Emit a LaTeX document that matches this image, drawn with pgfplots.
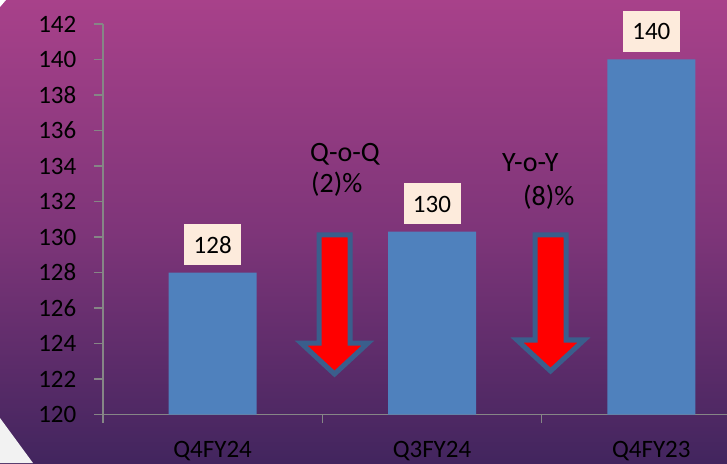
\documentclass[border=0pt]{standalone}
\usepackage{pgfplots}
\usepackage{pgfplotstable}
\pgfplotsset{compat=1.18}
\usepackage{fontspec}
\setmainfont{Carlito}
\definecolor{bgtop}{RGB}{168,65,138}
\definecolor{bgmid}{RGB}{126,53,121}
\definecolor{bgbot}{RGB}{66,37,94}
\definecolor{barblue}{RGB}{79,129,189}
\definecolor{boxfill}{RGB}{253,235,220}
\definecolor{axgray}{RGB}{134,134,134}
\definecolor{arrowedge}{RGB}{58,94,140}
\definecolor{cornergray}{RGB}{242,242,242}

\pgfplotstableread{
x y label
0 128 128
1 130.3 130
2 140 140
}\revtable

\begin{document}
\begin{tikzpicture}[x=1pt,y=1pt]
\path[use as bounding box] (0,0) rectangle (727,463);
\clip (0,0) rectangle (727,463);
\shade[top color=bgtop, bottom color=bgbot, middle color=bgmid] (0,0) rectangle (727,463);
\fill[cornergray] (0,0) -- (0,45) -- (33,0) -- cycle;
\fill[white] (0,463) -- (6,463) -- (0,456) -- cycle;
\begin{axis}[
  at={(103pt,48.5pt)}, anchor=south west, scale only axis,
  width=658pt, height=390.5pt,
  xmin=-0.5, xmax=2.5, ymin=120, ymax=142,
  axis x line*=bottom, axis y line*=left,
  axis line style={axgray, line width=1.5pt, -},
  tick style={axgray, line width=1.5pt},
  tick align=outside,
  major tick length=8.5pt,
  ytick={120,122,...,142},
  xtick={-0.5,0.5,1.5},
  xticklabels={},
  extra x ticks={0,1,2},
  extra x tick labels={Q4FY24,Q3FY24,Q4FY23},
  extra x tick style={major tick length=0pt, tick style={draw=none}},
  xticklabel style={anchor=north, inner sep=0pt, yshift=-27pt},
  yticklabel style={anchor=east, inner sep=0pt, xshift=-18pt},
  ticklabel style={font=\fontsize{25}{30}\selectfont, text=black},
  /pgf/number format/assume math mode=true,
  ybar, bar width=88pt,
  point meta=explicit symbolic,
  nodes near coords={\pgfplotspointmeta},
  every node near coord/.append style={fill=boxfill, text=black,
     minimum width=57pt, minimum height=41pt, inner sep=0pt,
     anchor=south, yshift=7pt, font=\fontsize{25}{30}\selectfont},
]
\addplot[fill=barblue, draw=none, bar shift=0pt] table[x=x, y=y, meta=label] {\revtable};
\end{axis}
% arrows
\filldraw[fill=red, draw=arrowedge, line width=5pt, line join=miter]
  (319,228) -- (350,228) -- (350,120) -- (368,120) -- (334.5,89) -- (301,120) -- (319,120) -- cycle;
\filldraw[fill=red, draw=arrowedge, line width=5pt, line join=miter]
  (535,228) -- (566,228) -- (566,123) -- (584,123) -- (550.5,92) -- (517,123) -- (535,123) -- cycle;
% annotations
\node[anchor=base west, inner sep=0pt, font=\fontsize{28}{34}\selectfont] at (310,301) {Q-o-Q};
\node[anchor=base west, inner sep=0pt, font=\fontsize{28}{34}\selectfont] at (311,270) {(2)\%};
\node[anchor=base west, inner sep=0pt, font=\fontsize{28}{34}\selectfont] at (502,291) {Y-o-Y};
\node[anchor=base west, inner sep=0pt, font=\fontsize{28}{34}\selectfont] at (523,257) {(8)\%};
\end{tikzpicture}
\end{document}
